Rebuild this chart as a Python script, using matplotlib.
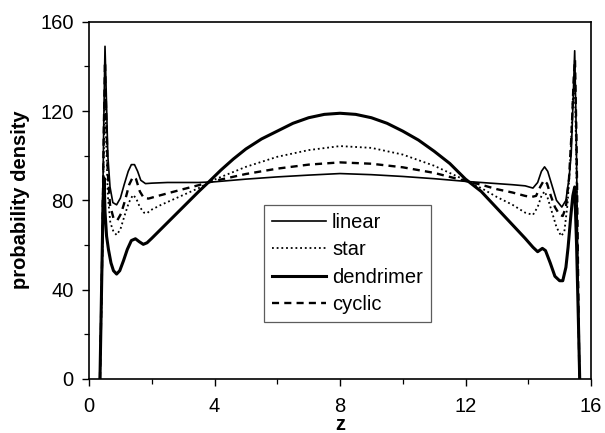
import matplotlib
matplotlib.use("Agg")
import matplotlib.pyplot as plt
from matplotlib.ticker import MultipleLocator

plt.rcParams['font.family'] = ['Liberation Sans', 'DejaVu Sans']

# Density profiles across the slit, one list of z positions per architecture
z_linear = [0.35, 0.42, 0.47, 0.51, 0.55, 0.60, 0.67, 0.76, 0.88, 1.00, 1.12, 1.25,
            1.35, 1.45, 1.55, 1.65, 1.80, 2.00, 2.5, 3.0, 3.5, 4.0, 5.0, 6.0, 7.0,
            8.0, 9.0, 10.0, 11.0, 12.0, 12.5, 13.0, 13.5, 13.9, 14.15, 14.3, 14.42,
            14.52, 14.62, 14.75, 14.9, 15.07, 15.2, 15.3, 15.37, 15.43, 15.48,
            15.53, 15.58, 15.63]
p_linear = [0, 60, 115, 149, 128, 100, 86, 79, 78, 81, 87, 93,
            96, 96, 93, 89, 87.5, 87.7, 88, 88, 88, 88.3, 89.5, 90.5, 91.3,
            92, 91.5, 90.7, 89.7, 88.5, 88, 87.5, 87, 86.5, 85.5, 88, 93,
            95, 93, 87, 80, 77, 80, 90, 101, 125, 147,
            110, 50, 0]

z_star = [0.35, 0.42, 0.47, 0.51, 0.55, 0.60, 0.68, 0.78, 0.88, 1.0, 1.13, 1.27,
          1.40, 1.50, 1.62, 1.75, 1.85, 1.95, 2.3, 2.7, 3.1, 3.5, 4.0, 5.0, 6.0,
          7.0, 8.0, 9.0, 10.0, 11.0, 12.0, 12.5, 13.0, 13.5, 13.9, 14.15, 14.3,
          14.42, 14.52, 14.62, 14.75, 14.9, 15.05, 15.15, 15.25, 15.33, 15.42,
          15.48, 15.53, 15.58, 15.63]
p_star = [0, 50, 100, 130, 105, 82, 70, 66, 64.5, 67, 73, 79,
          82.4, 81, 77, 74.5, 74.2, 75.5, 78, 80.5, 83, 85.5, 89.3, 95, 99.5,
          102.5, 104.3, 103.5, 100.5, 95.5, 89, 85.5, 81.5, 78, 74.5, 73.5, 77,
          82, 84, 81, 75, 68, 64, 66, 78, 95, 125,
          135, 100, 45, 0]

z_dendrimer = [0.35, 0.40, 0.45, 0.48, 0.51, 0.56, 0.62, 0.70, 0.78, 0.88, 0.98,
               1.10, 1.22, 1.35, 1.48, 1.60, 1.73, 1.85, 2.0, 2.5, 3.0, 3.5, 3.8,
               4.2, 4.6, 5.0, 5.5, 6.0, 6.5, 7.0, 7.5, 8.0, 8.5, 9.0, 9.5, 10.0,
               10.5, 11.0, 11.5, 12.0, 12.5, 13.0, 13.5, 13.9, 14.15, 14.3, 14.45,
               14.55, 14.7, 14.85, 15.0, 15.1, 15.2, 15.27, 15.35, 15.42, 15.48,
               15.54, 15.6, 15.64]
p_dendrimer = [0, 40, 80, 90, 75, 64, 58, 52, 48.5, 47, 48.5,
               53, 58, 62, 62.8, 61.5, 60.3, 61, 63, 70, 77, 84, 88,
               93.5, 98.5, 103, 107.5, 111, 114.5, 117, 118.5, 119, 118.5, 117, 114.5, 111,
               107, 102, 96.5, 89.5, 84, 76.5, 69, 63, 59, 57, 58.5,
               57.5, 52, 46, 44, 44, 50, 59, 72, 82, 86,
               60, 25, 0]

z_cyclic = [0.35, 0.42, 0.47, 0.51, 0.55, 0.60, 0.67, 0.78, 0.90, 1.02, 1.15, 1.28,
            1.40, 1.50, 1.62, 1.75, 1.90, 2.2, 2.6, 3.0, 3.5, 4.0, 5.0, 6.0, 7.0,
            8.0, 9.0, 10.0, 11.0, 12.0, 12.5, 13.0, 13.5, 13.9, 14.1, 14.25, 14.38,
            14.5, 14.6, 14.72, 14.85, 15.0, 15.1, 15.2, 15.3, 15.38, 15.45, 15.49,
            15.54, 15.59, 15.63]
p_cyclic = [0, 55, 110, 142, 118, 92, 78, 72, 71, 74, 80, 87,
            90.5, 89.5, 84, 81, 80.8, 82, 83.5, 85, 86.8, 88.7, 91.8, 94.2, 96,
            97, 96.4, 94.8, 92.3, 88.7, 87, 85, 83.5, 82, 81.5, 82, 86,
            89, 87.5, 82, 77, 73.5, 73, 77, 90, 110, 135, 143,
            105, 45, 0]

series_labels = ['linear', 'star', 'dendrimer', 'cyclic']
x_ticks = [0, 4, 8, 12, 16]
y_ticks = [0, 40, 80, 120, 160]

fig = plt.figure(figsize=(6.05, 4.33), dpi=100)
ax = fig.add_axes([89 / 605, 54 / 433, 502 / 605, 357.3 / 433])

ax.plot(z_linear, p_linear, color='black', lw=1.2, solid_joinstyle='round',
        label=series_labels[0])
ax.plot(z_star, p_star, color='black', lw=1.3, linestyle=(0, (1, 1.6)),
        label=series_labels[1])
ax.plot(z_dendrimer, p_dendrimer, color='black', lw=2.2, solid_joinstyle='round',
        label=series_labels[2])
ax.plot(z_cyclic, p_cyclic, color='black', lw=1.7, linestyle=(0, (3, 2.2)),
        label=series_labels[3])

ax.set_xlim(0, 16)
ax.set_ylim(0, 160)
ax.set_xticks(x_ticks)
ax.set_yticks(y_ticks)
ax.xaxis.set_minor_locator(MultipleLocator(2))
ax.yaxis.set_minor_locator(MultipleLocator(20))
ax.tick_params(which='major', direction='out', length=5, width=1.0,
               labelsize=14.5, colors='black')
ax.tick_params(axis='x', which='major', pad=8)
ax.tick_params(axis='y', which='major', pad=6)
ax.tick_params(which='minor', direction='out', length=3.5, width=0.9)
for s in ax.spines.values():
    s.set_linewidth(1.2)
    s.set_color('black')

fig.text(20.7 / 605, 1 - 200 / 433, 'probability density', rotation=90,
         ha='center', va='center', fontsize=14.5, fontweight='bold')
fig.text(340 / 605, 0.007, 'z', ha='center', va='baseline',
         fontsize=14.5, fontweight='bold')

leg = ax.legend(loc='upper left', bbox_to_anchor=((264 - 89) / 502, (379 - 205) / 357.3),
                fontsize=14.5, frameon=True, fancybox=False, shadow=False,
                handlelength=2.7, handletextpad=0.3, labelspacing=0.42,
                borderpad=0.38, borderaxespad=0.0)
leg.get_frame().set_edgecolor('#333333')
leg.get_frame().set_linewidth(0.9)

fig.savefig('out.png', dpi=100)
